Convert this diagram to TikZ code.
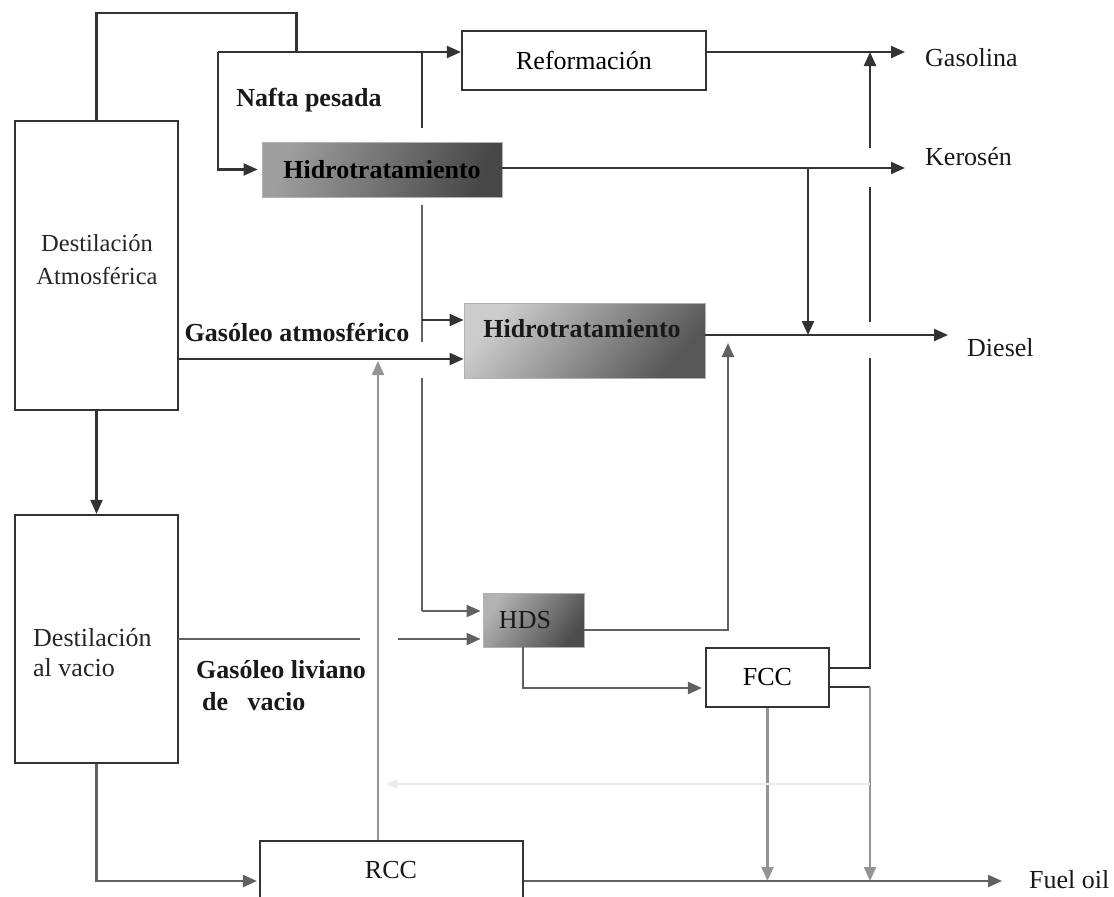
\documentclass[tikz,border=0pt]{standalone}
\usepackage{fontspec}
\setmainfont{Liberation Serif}
\usetikzlibrary{arrows.meta,calc}
\newcommand{\fsz}{\fontsize{26}{30}\selectfont}
\newcommand{\fszs}{\fontsize{24.5}{33}\selectfont}
\newcommand{\fszb}{\fontsize{26}{30}\selectfont\bfseries}
\begin{document}
\begin{tikzpicture}[x=1pt,y=-1pt,
  box/.style={draw=black!80, line width=2.2pt, inner sep=0pt, fill=white},
  hbox/.style={inner sep=0pt, draw=black!30, line width=0.8pt},
  flow/.style={draw=black!80, line width=2.2pt},
  midflow/.style={draw=black!62, line width=2.2pt},
  grayflow/.style={draw=black!42, line width=2.2pt},
  faint/.style={draw=black!8, line width=1.4pt},
  arr/.style={-{Triangle[length=14pt,width=12pt]}},
  txt/.style={font=\fsz, inner sep=0pt, text=black!90},
  btxt/.style={font=\fszb, inner sep=0pt, text=black!90},
  lbl/.style={font=\fsz, inner sep=0pt, anchor=west, text=black!90}]
\useasboundingbox (0,0) rectangle (1114,897);
\fill[white] (0,0) rectangle (1114,897);

% boxes
\node[box, minimum width=163pt, minimum height=289pt] (atm) at (96.5,265.5) {};
\node[txt, font=\fszs, align=center, text=black!85] (atmt) at (97,260) {Destilación\\Atmosférica};
\node[box, minimum width=163pt, minimum height=248pt] (vac) at (96.5,639) {};
\node[txt, align=left, anchor=west, text=black!85] (vact) at (33,653) {Destilación\\al vacio};
\node[box, minimum width=244pt, minimum height=59pt, font=\fsz] (ref) at (584,60.5) {Reformación};
\node[hbox, left color=black!38, right color=black!72, shading angle=70, minimum width=240pt, minimum height=55pt, font=\fszb] (h1) at (382,169.5) {Hidrotratamiento};
\node[hbox, left color=black!20, right color=black!66, shading angle=50, minimum width=241pt, minimum height=75pt] (h2) at (584.5,340.5) {};
\node[btxt] (h2t) at (582,329) {Hidrotratamiento};
\node[hbox, left color=black!30, right color=black!70, shading angle=55, minimum width=101pt, minimum height=54pt] (hds) at (533.5,620) {};
\node[txt] (hdst) at (525,620) {HDS};
\node[box, minimum width=123pt, minimum height=59pt, font=\fsz] (fcc) at (767.5,677.5) {FCC};
\node[box, minimum width=263pt, minimum height=100pt] (rcc) at (391.5,891) {};
\node[txt] (rcct) at (391,870) {RCC};

% labels
\node[lbl] (gasolina) at (925,58) {Gasolina};
\node[lbl] (kerosen) at (925,157) {Kerosén};
\node[lbl] (diesel) at (967,348) {Diesel};
\node[lbl] (fuel) at (1029,880) {Fuel oil};
\node[btxt] (nafta) at (309,100) {Nafta pesada};
\node[btxt] (gatm) at (297,332) {Gasóleo atmosférico};
\node[btxt, anchor=west] (gliv) at (196,670) {Gasóleo liviano};
\node[btxt, anchor=west] (gvac) at (202,702) {de~~~vacio};

% coordinates
\coordinate (t1) at (296.5,13);
\coordinate (j1) at (296.5,52);
\coordinate (nl) at (218,52);
\coordinate (jv) at (422,52);
\coordinate (v1) at (422,128);
\coordinate (v2) at (422,205);
\coordinate (v3) at (422,342);
\coordinate (a320) at (422,320);
\coordinate (v4) at (422,378);
\coordinate (v5) at (422,611);
\coordinate (gasT) at (905,52);
\coordinate (kerT) at (905,168);
\coordinate (kj) at (808,168);
\coordinate (dieT) at (948,335);
\coordinate (fuelT) at (1002,881);
\coordinate (ga) at (178,359);
\coordinate (hdsr) at (728,343);
\coordinate (g1) at (870,358);
\coordinate (g2) at (870,322);
\coordinate (g3) at (870,187);
\coordinate (g4) at (870,148);
\coordinate (g5) at (870,52);
\coordinate (g6) at (870,687);
\coordinate (gvt) at (378,361);
\coordinate (gl) at (178,639);
\coordinate (gl1) at (360,639);
\coordinate (gl2) at (398,639);
\coordinate (fa) at (870,784);
\coordinate (fb) at (386,784);

% connectors
\draw[flow] (atm.north) |- (t1) -- (j1);
\draw[flow,arr] (nl) -- (nl -| ref.west);
\draw[flow,arr,shorten >=4pt] (nl) |- (h1.west);
\draw[flow,arr] (ref.east |- gasT) -- (gasT);
\draw[flow] (jv) -- (v1);
\draw[midflow] (v2) -- (v3);
\draw[flow,arr] (a320) -- (a320 -| h2.west);
\draw[midflow] (v4) -- (v5);
\draw[midflow,arr,shorten >=2pt] (v5) -- (v5 -| hds.west);
\draw[flow,arr] (atm.east |- ga) -- (ga -| h2.west);
\draw[flow,arr] (h1.east |- kerT) -- (kerT);
\draw[flow,arr] (kj) -- (kj |- dieT);
\draw[flow,arr] (h2.east |- dieT) -- (dieT);
\draw[midflow,arr] ([yshift=-10pt]hds.east) -| (hdsr);
\draw[midflow,arr,shorten >=3pt] ([xshift=-10.5pt]hds.south) |- ([yshift=-10.5pt]fcc.west);
\draw[flow] ([yshift=9.5pt]fcc.east) -| (g1);
\draw[flow] (g2) -- (g3);
\draw[flow,arr] (g4) -- (g5);
\draw[flow] ([yshift=-9.5pt]fcc.east) -- (g6);
\draw[grayflow,arr] (g6) -- (g6 |- fuelT);
\draw[grayflow,arr] (fcc.south) -- (fcc.south |- fuelT);
\draw[flow,arr] (atm.south) -- (vac.north);
\draw[midflow,arr,shorten >=2pt] (vac.south) |- (rcc.west |- fuelT);
\draw[midflow,arr] (rcc.east |- fuelT) -- (fuelT);
\draw[grayflow,arr] (rcc.north -| gvt) -- (gvt);
\draw[midflow] (gl) -- (gl1);
\draw[midflow,arr,shorten >=2pt] (gl2) -- (gl2 -| hds.west);
\draw[faint,-{Triangle[length=11pt,width=9pt]}] (fa) -- (fb);
\end{tikzpicture}
\end{document}
